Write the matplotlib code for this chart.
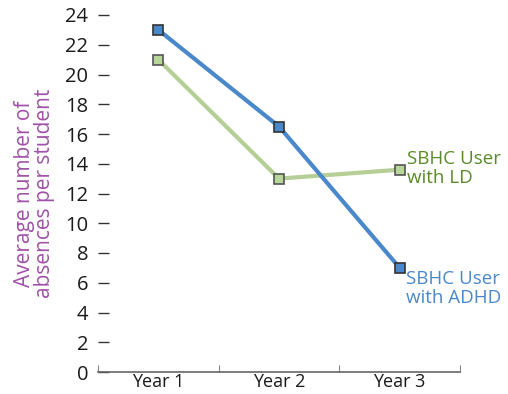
import matplotlib.pyplot as plt

years = ['Year 1', 'Year 2', 'Year 3']
adhd = [23, 16.5, 7]
ld = [21, 13, 13.6]

blue = '#4a88cc'
green = '#b5cf96'

plt.rcParams['font.family'] = ['Open Sans', 'DejaVu Sans']

fig = plt.figure(figsize=(5.08, 3.94), dpi=100)
ax = fig.add_axes([98 / 508, 1 - 372 / 394, 362 / 508, 357 / 394])

x = range(len(years))
ax.plot(x, ld, color=green, lw=3, marker='s', ms=7, mfc='#b8d69a',
        mec='#555555', mew=1.2, clip_on=False, zorder=3)
ax.plot(x, adhd, color=blue, lw=3, marker='s', ms=7, mfc=blue,
        mec='#333333', mew=1.2, clip_on=False, zorder=4)

ax.set_xlim(-0.5, 2.5)
ax.set_ylim(0, 24)
ax.set_yticks(range(0, 25, 2))
ax.set_xticks(x)
ax.set_xticklabels(years)
ax.set_xticks([-0.5, 0.5, 1.5, 2.5], minor=True)

for s in ['top', 'right', 'left']:
    ax.spines[s].set_visible(False)
ax.spines['bottom'].set_color('#666666')
ax.spines['bottom'].set_linewidth(1.2)

ax.tick_params(axis='y', direction='in', length=8, width=1, color='#333333',
               labelsize=14.5, pad=7, labelcolor='#1a1a1a')
ax.tick_params(axis='x', which='major', length=0, labelsize=13, pad=1,
               labelcolor='#1a1a1a')
ax.tick_params(axis='x', which='minor', direction='in', length=5,
               color='#666666')

ax.set_ylabel('Average number of\nabsences per student', color='#a050a8',
              fontsize=15, linespacing=0.95, labelpad=7)

ax.text(2.06, ld[2] + 0.1, 'SBHC User\nwith LD', color='#5a8a2a', fontsize=13.5,
        va='center', ha='left', linespacing=1.05)
ax.text(2.05, adhd[2] - 1.4, 'SBHC User\nwith ADHD', color='#4a88cc', fontsize=13.5,
        va='center', ha='left', linespacing=1.05)

fig.savefig('out.png', dpi=100)
